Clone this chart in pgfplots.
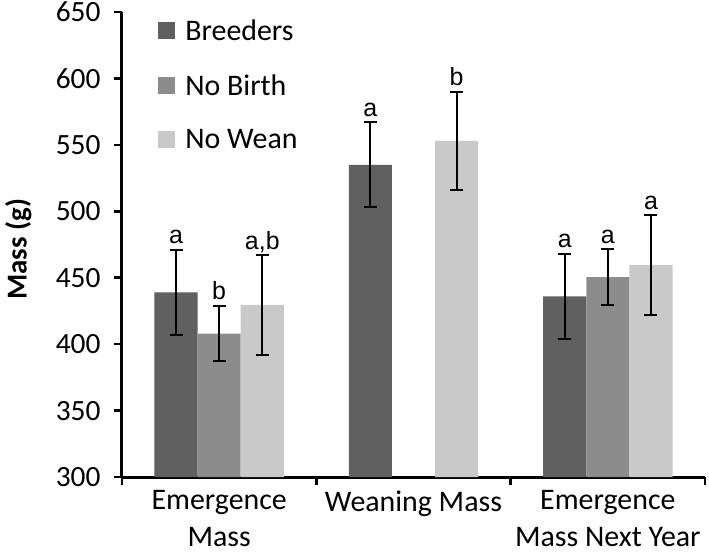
\documentclass[border=0pt]{standalone}
\usepackage{pgfplots}
\pgfplotsset{compat=1.18}
\usetikzlibrary{calc}
\usepackage{fontspec}
\setmainfont{Carlito}
\newfontfamily\arialfont{Liberation Sans}
\definecolor{cBreed}{HTML}{606060}
\definecolor{cNoBirth}{HTML}{8C8C8C}
\definecolor{cNoWean}{HTML}{C9C9C9}
\begin{document}
\begin{tikzpicture}
\begin{axis}[
  name=ax,
  scale only axis,
  width=583bp, height=465bp,
  ybar=0pt,
  bar width=0.222,
  xmin=-0.5, xmax=2.5,
  ymin=300, ymax=650,
  ytick={300,350,...,650},
  xtick={-0.5,0.5,1.5,2.5},
  x tick label as interval,
  xticklabels={Emergence\\Mass, Weaning Mass, Emergence\\Mass Next Year},
  xticklabel style={align=center, font=\fontsize{30}{37}\selectfont, yshift=-2bp},
  tick align=outside,
  axis x line*=bottom,
  axis y line*=left,
  axis line style={line width=3bp, -},
  tick style={line width=2.5bp, black},
  major tick length=8bp,
  yticklabel style={font=\fontsize{29.5}{32}\selectfont, xshift=-10bp},
  /pgf/number format/assume math mode=true,
  ylabel={\bfseries Mass (g)},
  every axis y label/.style={at={(axis description cs:-0.178,0.49)}, rotate=90, anchor=center, font=\fontsize{29}{32}\selectfont},
  legend cell align=left,
  legend style={at={(axis description cs:0.062,0.988)}, anchor=north west, draw=none, fill=none,
    font=\fontsize{30}{32}\selectfont, row sep=28.5bp, inner sep=0pt},
  legend image code/.code={\fill[#1] (0bp,-8.5bp) rectangle (17bp,8.5bp); \path (25bp,0bp);},
  error bars/error bar style={line width=2bp, black},
  error bars/error mark options={rotate=90, mark size=6.5bp, line width=2bp, black},
  clip=false,
]
\addplot[fill=cBreed, draw=none, bar shift=-0.222,
  error bars/.cd, y dir=both, y explicit]
  coordinates {(0,439) +- (0,32) (1,535) +- (0,32) (2,436) +- (0,32)};
\addlegendentry{Breeders}
\addplot[fill=cNoBirth, draw=none, bar shift=0,
  error bars/.cd, y dir=both, y explicit]
  coordinates {(0,408) +- (0,21) (2,450.5) +- (0,21)};
\addlegendentry{No Birth}
\addplot[fill=cNoWean, draw=none, bar shift=0.222,
  error bars/.cd, y dir=both, y explicit]
  coordinates {(0,429.5) +- (0,37.5) (1,553) +- (0,37) (2,459.5) +- (0,37.5)};
\addlegendentry{No Wean}
\addplot[only marks, mark=none, bar shift=0, forget plot,
  nodes near coords, point meta=explicit symbolic,
  nodes near coords style={anchor=base, font=\arialfont\fontsize{25}{28}\selectfont, inner sep=0pt, yshift=6bp}]
  table[meta=lab, row sep=\\] {
  x y lab \\
  -0.222 471 a \\
  0 429 b \\
  0.222 467 {a,b} \\
  0.778 567 a \\
  1.222 590 b \\
  1.778 468 a \\
  2 471.5 a \\
  2.222 497 a \\
  };
\end{axis}
\pgfresetboundingbox
\useasboundingbox ($(ax.south west)+(-122bp,-79bp)$) rectangle ($(ax.north east)+(4bp,12bp)$);
\end{tikzpicture}
\end{document}
